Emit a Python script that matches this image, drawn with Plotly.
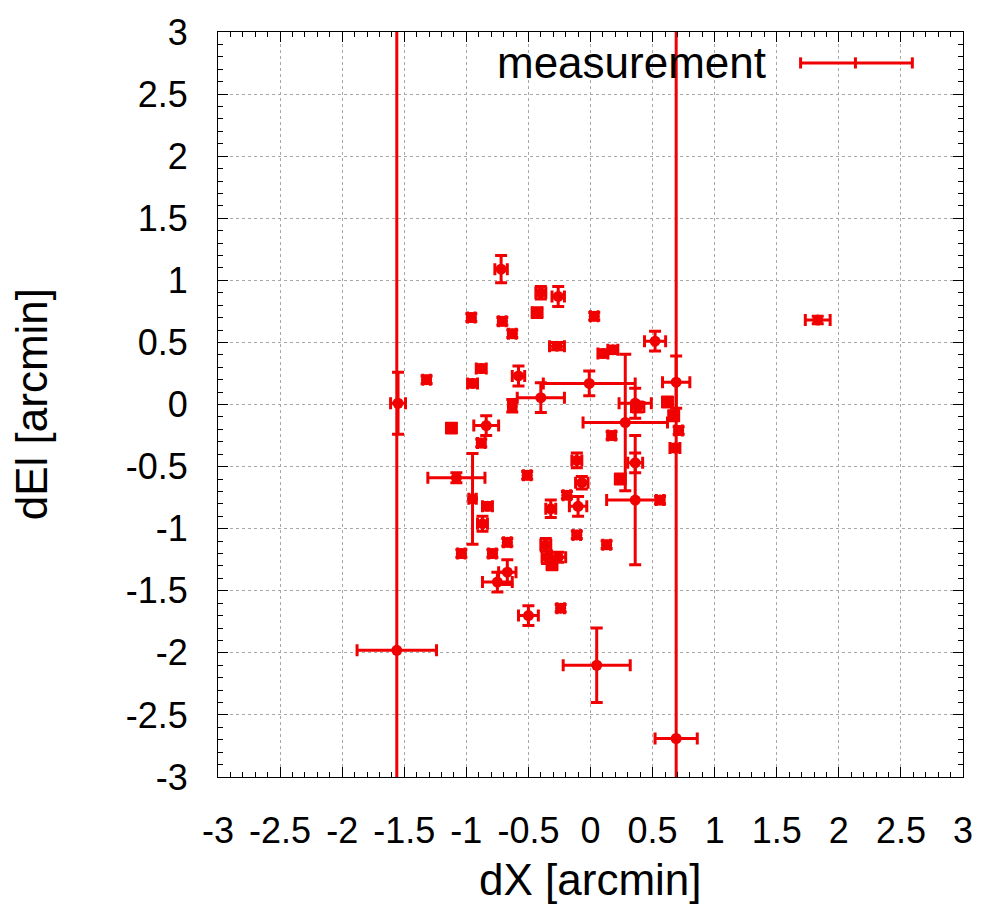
import plotly.graph_objects as go

# ---- data ----
dx = [-1.55, -1.56, 0.69, 0.69, -0.72, -0.40, -0.26, -0.43, -0.96, -0.71,
      -0.63, -0.27, -1.32, -0.88, -0.95, -0.58, -0.40, -0.01, -0.63, -1.12,
      -0.84, 0.03, 0.52, 0.10, 0.18, 0.28, 0.36, 0.38, 0.36, 0.36,
      0.24, 0.17, 0.56, 0.13, -0.11, 0.62, 0.67, 0.71, 0.68, -0.11,
      -0.07, -0.19, -0.10, -0.32, -0.88, -1.08, -0.95, -0.83, -0.87, -0.67,
      -0.79, -1.04, -0.75, -0.67, -0.51, -0.36, -0.35, -0.26, -0.31, -0.50,
      -0.24, 0.05, 1.83]
dEl = [0.01, -1.98, -2.69, 0.18, 1.09, 0.90, 0.87, 0.74, 0.70, 0.67,
       0.57, 0.47, 0.20, 0.29, 0.17, 0.23, 0.055, 0.17, -0.01, -0.19,
       -0.17, 0.71, 0.51, 0.41, 0.44, -0.145, 0.01, -0.02, -0.77, -0.47,
       -0.60, -0.25, -0.77, -1.13, -1.05, 0.02, -0.09, -0.21, -0.35, -0.45,
       -0.63, -0.73, -0.82, -0.84, -0.31, -0.59, -0.76, -0.82, -0.96, -1.11,
       -1.20, -1.20, -1.43, -1.35, -0.57, -1.13, -1.23, -1.23, -1.29, -1.70,
       -1.64, -2.10, 0.68]
dx_err = [0.06, 0.32, 0.17, 0.11, 0.05, 0.04, 0.05, 0.04, 0.03, 0.03,
          0.03, 0.06, 0.03, 0.04, 0.04, 0.05, 0.19, 0.37, 0.03, 0.04,
          0.10, 0.03, 0.085, 0.04, 0.04, 0.34, 0.13, 0.05, 0.23, 0.06,
          0.04, 0.03, 0.03, 0.03, 0.03, 0.04, 0.04, 0.03, 0.04, 0.04,
          0.05, 0.03, 0.07, 0.04, 0.03, 0.23, 0.03, 0.04, 0.04, 0.03,
          0.03, 0.03, 0.12, 0.07, 0.03, 0.04, 0.04, 0.06, 0.04, 0.08,
          0.03, 0.27, 0.10]
dEl_err = [0.25, 6.0, 6.0, 0.21, 0.11, 0.05, 0.08, 0.04, 0.03, 0.03,
           0.03, 0.03, 0.03, 0.03, 0.03, 0.08, 0.12, 0.10, 0.05, 0.04,
           0.08, 0.03, 0.08, 0.03, 0.03, 0.55, 0.12, 0.04, 0.52, 0.08,
           0.04, 0.03, 0.03, 0.03, 0.03, 0.04, 0.04, 0.03, 0.03, 0.06,
           0.05, 0.03, 0.08, 0.07, 0.03, 0.04, 0.365, 0.03, 0.06, 0.03,
           0.03, 0.03, 0.08, 0.10, 0.03, 0.05, 0.05, 0.04, 0.04, 0.08,
           0.03, 0.30, 0.03]

tick_vals = [-3, -2.5, -2, -1.5, -1, -0.5, 0, 0.5, 1, 1.5, 2, 2.5, 3]
tick_text = ["-3", "-2.5", "-2", "-1.5", "-1", "-0.5", "0", "0.5", "1", "1.5", "2", "2.5", "3"]

RED = "#f00000"
FONT = "Liberation Sans"

fig = go.Figure()
fig.add_trace(go.Scatter(
    x=dx, y=dEl, mode="markers", name="measurement", showlegend=False,
    marker=dict(color=RED, size=11, symbol="circle", line=dict(width=0)),
    error_x=dict(type="data", array=dx_err, color=RED, thickness=3, width=6),
    error_y=dict(type="data", array=dEl_err, color=RED, thickness=3, width=6),
))

axis_common = dict(
    range=[-3, 3], tickvals=tick_vals, ticktext=tick_text,
    ticks="inside", ticklen=10, tickcolor="black", tickwidth=1,
    showline=True, linecolor="black", linewidth=1, mirror="allticks",
    showgrid=True, gridcolor="#a8a8a8", griddash="dot", gridwidth=1,
    zeroline=False,
    minor=dict(dtick=0.1, ticks="inside", ticklen=5, tickcolor="black", showgrid=False),
    tickfont=dict(family=FONT, size=36, color="black"),
    ticklabelstandoff=22,
)

fig.update_xaxes(**axis_common)
fig.update_yaxes(**axis_common)

# legend drawn gnuplot-style (text, then error-bar sample)
lx0, lx1, lxm, ly = 0.782, 0.932, 0.8556, 0.9585
cap = 0.0075
shapes = [
    dict(type="line", xref="paper", yref="paper", x0=lx0, x1=lx1, y0=ly, y1=ly,
         line=dict(color=RED, width=3)),
]
for xc in (lx0, lxm, lx1):
    shapes.append(dict(type="line", xref="paper", yref="paper", x0=xc, x1=xc,
                       y0=ly - cap, y1=ly + cap, line=dict(color=RED, width=3)))

annotations = [
    dict(text="measurement", xref="paper", yref="paper", x=0.738, y=ly,
         xanchor="right", yanchor="middle", showarrow=False,
         font=dict(family=FONT, size=44, color="black")),
    dict(text="dX [arcmin]", xref="paper", yref="paper", x=0.5, y=-0.138,
         xanchor="center", yanchor="middle", showarrow=False,
         font=dict(family=FONT, size=44, color="black")),
    dict(text="dEl [arcmin]", xref="paper", yref="paper", x=-0.25, y=0.5,
         xanchor="center", yanchor="middle", showarrow=False, textangle=-90,
         font=dict(family=FONT, size=44, color="black")),
]

fig.update_layout(
    width=985, height=922,
    margin=dict(l=218, r=19, t=30, b=145),
    paper_bgcolor="white", plot_bgcolor="white",
    shapes=shapes, annotations=annotations,
    showlegend=False,
)

fig.write_html("out.html")
